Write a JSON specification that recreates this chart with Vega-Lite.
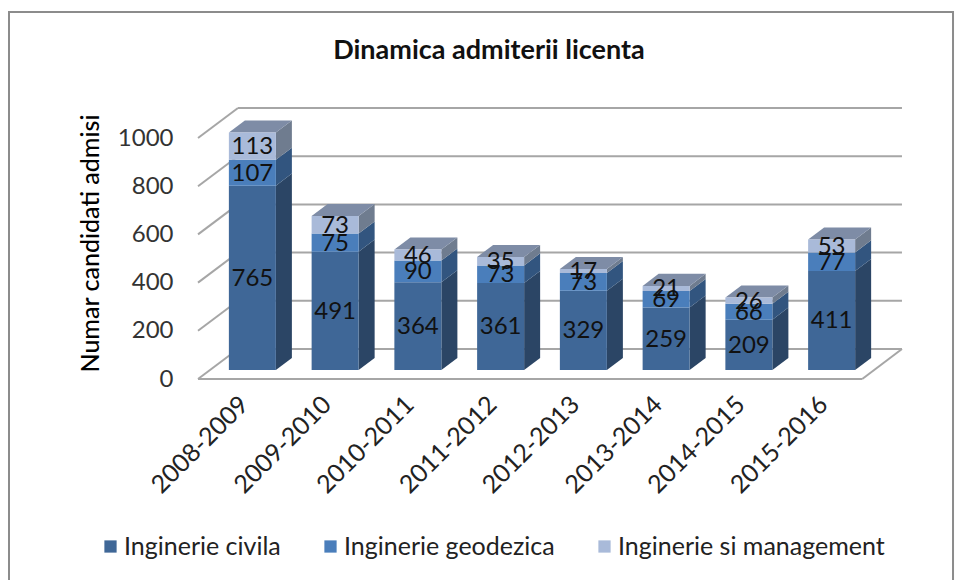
{
"$schema":"https://vega.github.io/schema/vega-lite/v6.json",
"width":662,"height":241,
"autosize":{"type":"none"},
"padding":{"left":211,"top":129,"right":85,"bottom":210},
"background":"white",
"config":{"view":{"stroke":null},"font":"Lato"},
"title":{"text":"Dinamica admiterii licenta","font":"Lato","fontSize":27,"fontWeight":"bold","color":"#111111","anchor":"middle","frame":"group","dx":-53,"offset":-54},
"data":{"values":[
{"period":"2008-2009","series":"Inginerie civila","value":765},
{"period":"2008-2009","series":"Inginerie geodezica","value":107},
{"period":"2008-2009","series":"Inginerie si management","value":113},
{"period":"2009-2010","series":"Inginerie civila","value":491},
{"period":"2009-2010","series":"Inginerie geodezica","value":75},
{"period":"2009-2010","series":"Inginerie si management","value":73},
{"period":"2010-2011","series":"Inginerie civila","value":364},
{"period":"2010-2011","series":"Inginerie geodezica","value":90},
{"period":"2010-2011","series":"Inginerie si management","value":46},
{"period":"2011-2012","series":"Inginerie civila","value":361},
{"period":"2011-2012","series":"Inginerie geodezica","value":73},
{"period":"2011-2012","series":"Inginerie si management","value":35},
{"period":"2012-2013","series":"Inginerie civila","value":329},
{"period":"2012-2013","series":"Inginerie geodezica","value":73},
{"period":"2012-2013","series":"Inginerie si management","value":17},
{"period":"2013-2014","series":"Inginerie civila","value":259},
{"period":"2013-2014","series":"Inginerie geodezica","value":69},
{"period":"2013-2014","series":"Inginerie si management","value":21},
{"period":"2014-2015","series":"Inginerie civila","value":209},
{"period":"2014-2015","series":"Inginerie geodezica","value":66},
{"period":"2014-2015","series":"Inginerie si management","value":26},
{"period":"2015-2016","series":"Inginerie civila","value":411},
{"period":"2015-2016","series":"Inginerie geodezica","value":77},
{"period":"2015-2016","series":"Inginerie si management","value":53}
]},
"transform":[
{"stack":"value","groupby":["period"],"sort":[{"field":"series","order":"ascending"}],"as":["y0","y1"]},
{"window":[{"op":"dense_rank","as":"rank"}],"sort":[{"field":"period","order":"ascending"}]}
],
"resolve":{"scale":{"x":"independent","color":"independent"},"axis":{"y":"independent"}},
"layer":[
{"data":{"values":[{"x":-2.441,"x2":8.967,"y":1485,"y2":-917}]},
 "mark":{"type":"rect","fill":null,"stroke":"#8c8c8c","strokeWidth":2},
 "encoding":{
  "x":{"field":"x","type":"quantitative","scale":{"domain":[0,8],"nice":false},"axis":null},
  "x2":{"field":"x2"},
  "y":{"field":"y","type":"quantitative","scale":{"domain":[0,1000],"nice":false},"axis":null},
  "y2":{"field":"y2"}}},
{"data":{"values":[{"v":0},{"v":200},{"v":400},{"v":600},{"v":800},{"v":1000}]},
 "mark":{"type":"rule","color":"#a6a6a6","strokeWidth":2,"yOffset":-21,"y2Offset":-21},
 "encoding":{
  "x":{"datum":0.326,"type":"quantitative","scale":{"domain":[0,8],"nice":false},"axis":null},
  "x2":{"datum":8.35},
  "y":{"field":"v","type":"quantitative","axis":null},
  "y2":{"field":"v"}}},
{"data":{"values":[{"v":0},{"v":200},{"v":400},{"v":600},{"v":800},{"v":1000}]},
 "mark":{"type":"rule","color":"#a6a6a6","strokeWidth":2,"yOffset":9,"y2Offset":-21},
 "encoding":{
  "x":{"datum":-0.157,"type":"quantitative","scale":{"domain":[0,8],"nice":false},"axis":null},
  "x2":{"datum":0.326},
  "y":{"field":"v","type":"quantitative","axis":null},
  "y2":{"field":"v"}}},
{"data":{"values":[{"v":0}]},
 "mark":{"type":"rule","color":"#a6a6a6","strokeWidth":2,"yOffset":9,"y2Offset":9},
 "encoding":{
  "x":{"datum":-0.157,"type":"quantitative","scale":{"domain":[0,8],"nice":false},"axis":null},
  "x2":{"datum":7.87},
  "y":{"field":"v","type":"quantitative","axis":null},
  "y2":{"field":"v"}}},
{"data":{"values":[{"v":0}]},
 "mark":{"type":"rule","color":"#a6a6a6","strokeWidth":2,"yOffset":9,"y2Offset":-21},
 "encoding":{
  "x":{"datum":7.87,"type":"quantitative","scale":{"domain":[0,8],"nice":false},"axis":null},
  "x2":{"datum":8.35},
  "y":{"field":"v","type":"quantitative","axis":null},
  "y2":{"field":"v"}}},
{"transform":[
  {"calculate":"datum.rank-1+0.784","as":"a"},
  {"calculate":"datum.rank-1+0.784+0.1935","as":"b"},
  {"fold":["a","b"],"as":["k","fx"]},
  {"calculate":"datum.k=='a'?datum.y0:datum.y0+50","as":"ya"},
  {"calculate":"datum.k=='a'?datum.y1:datum.y1+50","as":"yb"}],
 "mark":{"type":"area","orient":"vertical"},
 "encoding":{
  "x":{"field":"fx","type":"quantitative","scale":{"domain":[0,8],"nice":false},"axis":null},
  "y":{"field":"ya","type":"quantitative","stack":null,"axis":null},
  "y2":{"field":"yb"},
  "detail":{"field":"period"},
  "color":{"field":"series","type":"nominal","legend":null,"scale":{"domain":["Inginerie civila","Inginerie geodezica","Inginerie si management"],"range":["#2b4565","#32557f","#6f7c8f"]}}}},
{"transform":[
  {"filter":"datum.series=='Inginerie si management'"},
  {"calculate":"datum.rank-1+0.216","as":"p1"},
  {"calculate":"datum.rank-1+0.216+0.1935","as":"p2"},
  {"calculate":"datum.rank-1+0.784","as":"p3"},
  {"calculate":"datum.rank-1+0.784+0.1935","as":"p4"},
  {"fold":["p1","p2","p3","p4"],"as":["k","fx"]},
  {"calculate":"datum.k=='p4'?datum.y1+50:datum.y1","as":"ya"},
  {"calculate":"datum.k=='p1'?datum.y1:datum.y1+50","as":"yb"}],
 "mark":{"type":"area","orient":"vertical","color":"#7e8ca6"},
 "encoding":{
  "x":{"field":"fx","type":"quantitative","scale":{"domain":[0,8],"nice":false},"axis":null},
  "y":{"field":"ya","type":"quantitative","stack":null,"axis":null},
  "y2":{"field":"yb"},
  "detail":{"field":"period"}}},
{"mark":{"type":"bar"},
 "encoding":{
  "x":{"field":"period","type":"nominal","sort":null,"scale":{"paddingInner":0.432,"paddingOuter":0.216},
   "axis":{"title":null,"labelAngle":-45,"labelAlign":"right","labelBaseline":"middle","labelFont":"Lato","labelFontSize":25,"labelColor":"#222222","labelPadding":30,"labelOffset":-8,"ticks":false,"domain":false,"grid":false,"labelOverlap":false}},
  "y":{"field":"y0","type":"quantitative","scale":{"domain":[0,1000],"nice":false},
   "axis":{"title":"Numar candidati admisi","titleFont":"Lato","titleFontSize":25,"titleFontWeight":500,"titleColor":"#000000","titleAngle":-90,"titleAlign":"center","titleX":-108,"titleY":114,"values":[0,200,400,600,800,1000],"format":"d","labelOffset":9,"labelFont":"Lato","labelFontSize":24,"labelColor":"#333333","labelPadding":38,"ticks":false,"domain":false,"grid":false}},
  "y2":{"field":"y1"},
  "color":{"field":"series","type":"nominal","scale":{"domain":["Inginerie civila","Inginerie geodezica","Inginerie si management"],"range":["#3f6797","#4a7ebb","#a9bad9"]},
   "legend":{"title":null,"orient":"none","legendX":-113,"legendY":405,"direction":"horizontal","columns":3,"gridAlign":"none","symbolType":"square","symbolSize":150,"symbolStrokeWidth":0,"labelFont":"Lato","labelFontSize":25,"labelColor":"#222222","labelLimit":400,"columnPadding":37,"labelOffset":1}}}},
{"transform":[{"calculate":"(datum.y0+datum.y1)/2","as":"mid"}],
 "mark":{"type":"text","font":"Lato","fontSize":24,"color":"#111111","baseline":"middle","align":"center","dy":1},
 "encoding":{
  "x":{"field":"period","type":"nominal","sort":null,"scale":{"paddingInner":0.432,"paddingOuter":0.216},"axis":null},
  "y":{"field":"mid","type":"quantitative","axis":null},
  "text":{"field":"value","type":"quantitative"}}}
]
}
